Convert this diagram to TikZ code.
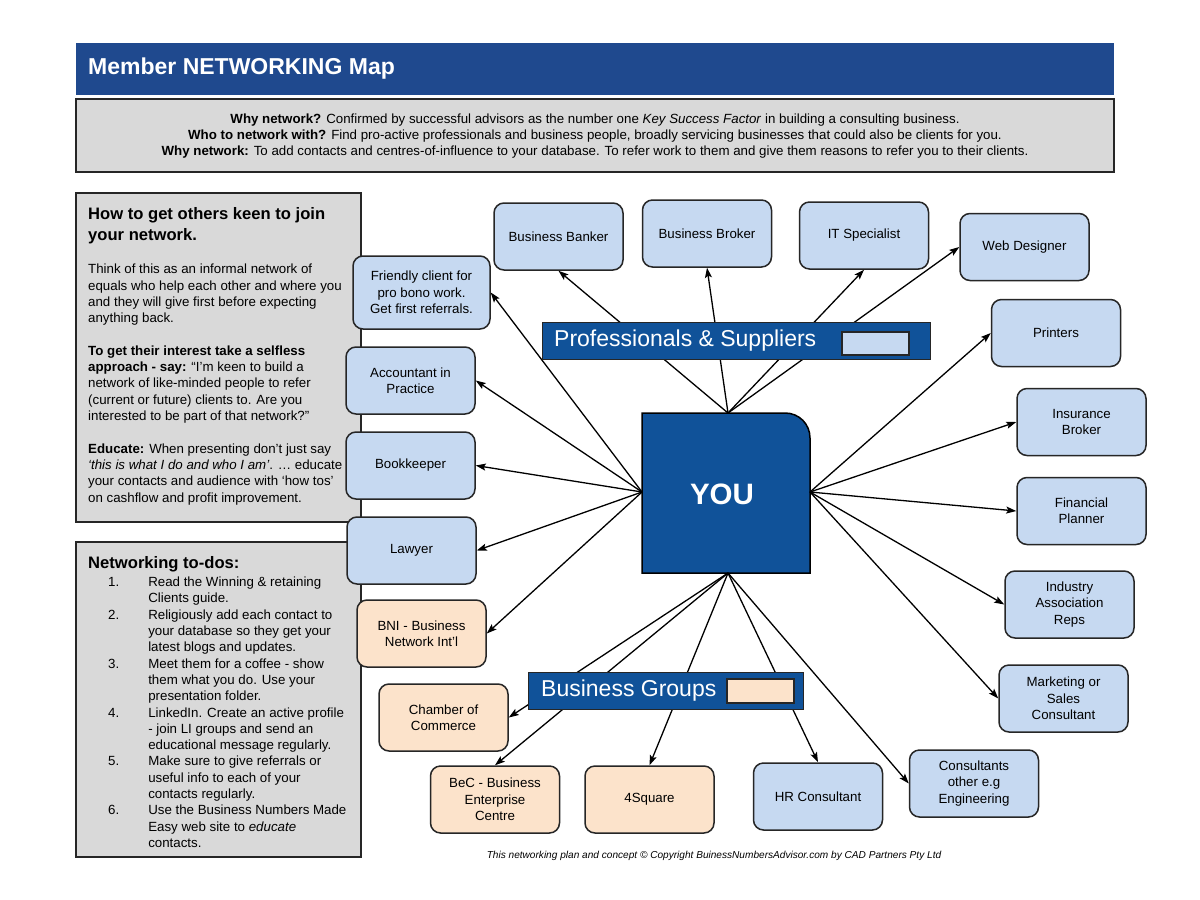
\documentclass[tikz,border=0pt]{standalone}
\usepackage{fontspec}
\setmainfont{Liberation Sans}
\usetikzlibrary{arrows.meta}
\definecolor{hdrblue}{RGB}{31,73,142}
\definecolor{youblue}{RGB}{16,82,153}
\definecolor{lblue}{RGB}{198,217,241}
\definecolor{peach}{RGB}{252,227,203}
\definecolor{pgrey}{RGB}{217,217,217}
\begin{document}
\begin{tikzpicture}[x=1pt,y=-1pt,
  box/.style={draw=black!85, line width=1.5pt, rounded corners=10pt, minimum width=129pt, minimum height=67pt, align=center, inner sep=2pt, font=\fontsize{13.3}{16.3}\selectfont},
  bluebox/.style={box, fill=lblue},
  peachbox/.style={box, fill=peach},
  arr/.style={-{Stealth[length=10pt,width=7pt,inset=2pt]}, line width=1.3pt, black},
  panel/.style={draw=black!85, line width=1.5pt, fill=pgrey},
  banner/.style={draw=black!85, line width=1.2pt, fill=youblue, inner sep=0pt, anchor=north west},
  bannertext/.style={anchor=west, text=white, inner sep=0pt, font=\fontsize{23}{26}\selectfont},
  body/.style={anchor=north west, inner sep=0pt, align=left, font=\fontsize{13.3}{16.3}\selectfont},
  ptitle/.style={anchor=north west, inner sep=0pt, align=left, font=\bfseries\fontsize{16.6}{21}\selectfont}
]
\useasboundingbox[fill=white] (0,0) rectangle (1200,900);

% header
\fill[hdrblue] (76,43) rectangle (1114,95);
\node[anchor=west, text=white, inner sep=0pt, font=\bfseries\fontsize{23}{26}\selectfont] (title) at (88,69) {Member NETWORKING Map};

% info box
\draw[panel] (76,99) rectangle (1114,172);
\node[align=center, inner sep=0pt, font=\fontsize{13.3}{16.2}\selectfont] (info) at (595,136) {\textbf{Why network?} Confirmed by successful advisors as the number one \textit{Key Success Factor} in building a consulting business.\\
\textbf{Who to network with?} Find pro-active professionals and business people, broadly servicing businesses that could also be clients for you.\\
\textbf{Why network:} To add contacts and centres-of-influence to your database. To refer work to them and give them reasons to refer you to their clients.};

% left panel 1
\draw[panel] (76,193) rectangle (361,522);
\node[ptitle] (t1) at (88,207) {How to get others keen to join\\your network.};
\node[body] (p1) at (88,264) {Think of this as an informal network of\\
equals who help each other and where you\\
and they will give first before expecting\\
anything back.\\[16.3pt]
\textbf{To get their interest take a selfless}\\
\textbf{approach - say:} “I’m keen to build a\\
network of like-minded people to refer\\
(current or future) clients to. Are you\\
interested to be part of that network?”\\[16.3pt]
\textbf{Educate:} When presenting don’t just say\\
\textit{‘this is what I do and who I am’}. … educate\\
your contacts and audience with ‘how tos’\\
on cashflow and profit improvement.};

% left panel 2
\draw[panel] (76,542) rectangle (361,857);
\node[ptitle] (t2) at (88,556) {Networking to-dos:};
\node[anchor=north west, inner sep=0pt, font=\fontsize{13.3}{16.3}\selectfont] (todo) at (108,575) {%
\begin{tabular}{@{}r@{\hspace{29pt}}l@{}}
1. & Read the Winning \& retaining\\
   & Clients guide.\\
2. & Religiously add each contact to\\
   & your database so they get your\\
   & latest blogs and updates.\\
3. & Meet them for a coffee - show\\
   & them what you do. Use your\\
   & presentation folder.\\
4. & LinkedIn. Create an active profile\\
   & - join LI groups and send an\\
   & educational message regularly.\\
5. & Make sure to give referrals or\\
   & useful info to each of your\\
   & contacts regularly.\\
6. & Use the Business Numbers Made\\
   & Easy web site to \textit{educate}\\
   & contacts.
\end{tabular}};

% outer nodes
\node[bluebox] (banker) at (558.5,236.5) {Business Banker};
\node[bluebox] (broker) at (707,233.5) {Business Broker};
\node[bluebox] (itspec) at (864,235.5) {IT Specialist};
\node[bluebox] (web) at (1024.5,247) {Web Designer};
\node[bluebox] (printers) at (1056,333) {Printers};
\node[bluebox] (insur) at (1081.5,422) {Insurance\\Broker};
\node[bluebox] (finplan) at (1081.5,511) {Financial\\Planner};
\node[bluebox] (industry) at (1069.5,604.5) {Industry\\Association\\Reps};
\node[bluebox] (market) at (1063.5,698.5) {Marketing or\\Sales\\Consultant};
\node[bluebox] (consult) at (974,783.5) {Consultants\\other e.g\\Engineering};
\node[bluebox] (hr) at (818,796.5) {HR Consultant};
\node[peachbox] (foursq) at (649.5,799.5) {4Square};
\node[peachbox] (bec) at (495,799.5) {BeC - Business\\Enterprise\\Centre};
\node[peachbox] (chamber) at (443.5,717.5) {Chamber of\\Commerce};
\node[peachbox] (bni) at (421.5,633.5) {BNI - Business\\Network Int’l};
\node[bluebox] (lawyer) at (411.5,550.5) {Lawyer};
\node[bluebox] (bookk) at (410.5,465.5) {Bookkeeper};
\node[bluebox] (account) at (410.5,380.5) {Accountant in\\Practice};
\node[bluebox, minimum width=137pt, minimum height=73pt] (friendly) at (421.5,292.5) {Friendly client for\\pro bono work.\\Get first referrals.};

% YOU box
\draw[line width=1.5pt, fill=youblue] (642,573) -- (642,413) -- (785,413) .. controls (799,413) and (810,424) .. (810,438) -- (810,573) -- cycle;
\node[text=white, inner sep=0pt, font=\bfseries\fontsize{29.5}{32}\selectfont] (you) at (722,494) {YOU};
\coordinate (yt) at (728,413);
\coordinate (yl) at (642,492);
\coordinate (yr) at (810,492);
\coordinate (yb) at (728,573);

% connectors
\draw[arr] (yt) -- (banker.south);
\draw[arr] (yt) -- (broker.south);
\draw[arr] (yt) -- (itspec.south);
\draw[arr] (yt) -- (web.west);
\draw[arr] (yr) -- (printers.west);
\draw[arr] (yr) -- (insur.west);
\draw[arr] (yr) -- (finplan.west);
\draw[arr] (yr) -- (industry.west);
\draw[arr] (yr) -- (market.west);
\draw[arr] (yb) -- (consult.west);
\draw[arr] (yb) -- (hr.north);
\draw[arr] (yb) -- (foursq.north);
\draw[arr] (yb) -- (bec.north);
\draw[arr] (yb) -- (chamber.east);
\draw[arr] (yl) -- (bni.east);
\draw[arr] (yl) -- (lawyer.east);
\draw[arr] (yl) -- (bookk.east);
\draw[arr] (yl) -- (account.east);
\draw[arr] (yl) -- (friendly.east);

% banners
\node[banner, minimum width=388pt, minimum height=37pt] (ps) at (542,322) {};
\node[bannertext] (pstext) at (554,341) {Professionals \& Suppliers};
\node[draw=black!85, line width=1.2pt, fill=lblue, minimum width=67pt, minimum height=23pt, inner sep=0pt] (pskey) at (875.5,343.5) {};
\node[banner, minimum width=275pt, minimum height=37pt] (bg) at (528,672) {};
\node[bannertext] (bgtext) at (541,691) {Business Groups};
\node[draw=black!85, line width=1.2pt, fill=peach, minimum width=67pt, minimum height=24pt, inner sep=0pt] (bgkey) at (760.5,691) {};

% footer
\node[inner sep=0pt, font=\itshape\fontsize{10.1}{12}\selectfont] (footer) at (714,856) {This networking plan and concept © Copyright BuinessNumbersAdvisor.com by CAD Partners Pty Ltd};
\end{tikzpicture}
\end{document}
